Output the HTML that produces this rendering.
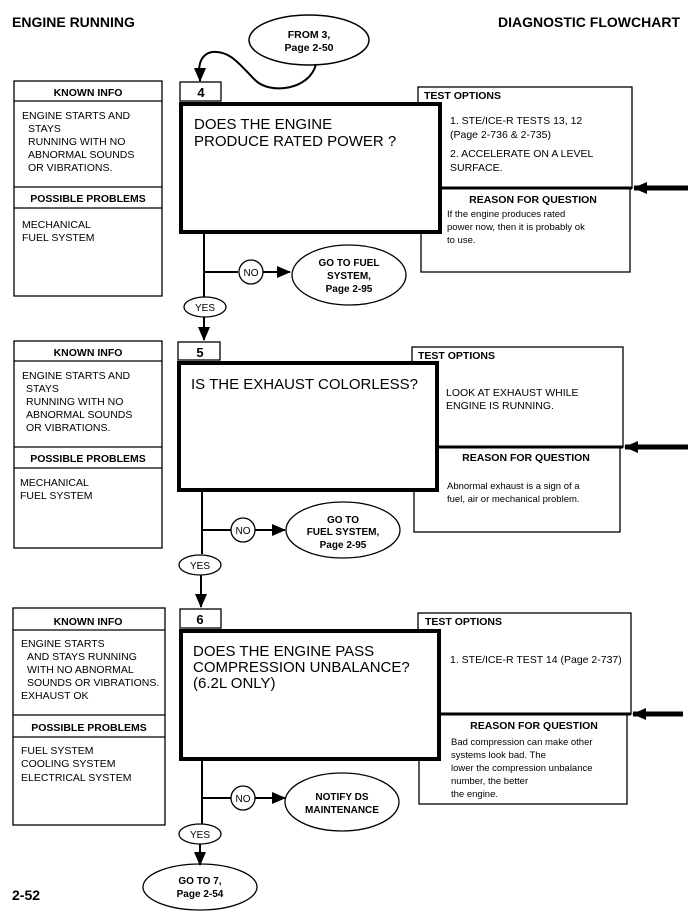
<!DOCTYPE html>
<html><head><meta charset="utf-8"><style>
body{margin:0;background:#fff}
svg{display:block}
text{font-family:"Liberation Sans",Arial,sans-serif;fill:#000}
.b{font-weight:bold}
.s{font-size:10.5px}
.q{font-size:15px}
</style></head><body>
<svg width="688" height="918" viewBox="0 0 688 918" xmlns="http://www.w3.org/2000/svg">
<defs><marker id="ah" markerWidth="8" markerHeight="8" refX="7" refY="4" orient="auto" markerUnits="userSpaceOnUse"><path d="M0,0 L8,4 L0,8 z"/></marker>
<marker id="ab" markerWidth="14" markerHeight="12" refX="13" refY="6" orient="auto" markerUnits="userSpaceOnUse"><path d="M0,0 L14,6 L0,12 z"/></marker></defs>
<g stroke="#000" fill="none">
<!-- header -->
</g>
<text x="12" y="27" class="b" font-size="14">ENGINE RUNNING</text>
<text x="680" y="27" class="b" font-size="14" text-anchor="end">DIAGNOSTIC FLOWCHART</text>

<!-- FROM 3 -->
<g stroke="#000" fill="none" stroke-width="1.5">
<ellipse cx="309" cy="40" rx="60" ry="25"/>
<path d="M316,64 C310,90 270,95 255,80 C240,65 230,50 212,52 C198,55 198,70 200,80" stroke-width="2"/>
<path d="M200,78 L200,81" marker-end="url(#ab)" stroke-width="2"/>
</g>
<text x="309" y="38" class="b" font-size="10.5" text-anchor="middle">FROM 3,</text>
<text x="309" y="51" class="b" font-size="10.5" text-anchor="middle">Page 2-50</text>

<!-- SECTION template -->
<g id="sec1">
<g stroke="#000" fill="none" stroke-width="1.3">
<rect x="14" y="81" width="148" height="215"/>
<line x1="14" y1="101" x2="162" y2="101"/>
<line x1="14" y1="187" x2="162" y2="187"/>
<line x1="14" y1="208" x2="162" y2="208"/>
<rect x="180" y="82" width="41" height="19"/>
<rect x="418" y="87" width="214" height="101"/>
<rect x="421" y="188" width="209" height="84"/>
<rect x="181" y="104" width="259" height="128" stroke-width="4" fill="#fff"/>
<line x1="440" y1="188" x2="632" y2="188" stroke-width="3"/>
<line x1="688" y1="188" x2="634" y2="188" stroke-width="5" marker-end="url(#ab)"/>
<line x1="204" y1="232" x2="204" y2="297" stroke-width="2"/>
<line x1="204" y1="272" x2="238" y2="272" stroke-width="2"/>
<circle cx="251" cy="272" r="12"/>
<line x1="263" y1="272" x2="290" y2="272" stroke-width="2" marker-end="url(#ab)"/>
<ellipse cx="349" cy="275" rx="57" ry="30"/>
<ellipse cx="205" cy="307" rx="21" ry="10"/>
<line x1="204" y1="317" x2="204" y2="340" stroke-width="2" marker-end="url(#ab)"/>
</g>
<text x="88" y="96" class="b s" text-anchor="middle">KNOWN INFO</text>
<text x="22" y="119" class="s">ENGINE STARTS AND</text>
<text x="28" y="132" class="s">STAYS</text>
<text x="28" y="145" class="s">RUNNING WITH NO</text>
<text x="28" y="158" class="s">ABNORMAL SOUNDS</text>
<text x="28" y="171" class="s">OR VIBRATIONS.</text>
<text x="88" y="202" class="b s" text-anchor="middle">POSSIBLE PROBLEMS</text>
<text x="22" y="228" class="s">MECHANICAL</text>
<text x="22" y="241" class="s">FUEL SYSTEM</text>
<text x="201" y="97" class="b" font-size="13" text-anchor="middle">4</text>
<text x="194" y="129" class="q">DOES THE ENGINE</text>
<text x="194" y="146" class="q">PRODUCE RATED POWER ?</text>
<text x="424" y="99" class="b s">TEST OPTIONS</text>
<text x="450" y="124" class="s">1. STE/ICE-R TESTS 13, 12</text>
<text x="450" y="138" class="s">(Page 2-736 &amp; 2-735)</text>
<text x="450" y="157" class="s">2. ACCELERATE ON A LEVEL</text>
<text x="450" y="171" class="s">SURFACE.</text>
<text x="533" y="203" class="b s" text-anchor="middle">REASON FOR QUESTION</text>
<text x="447" y="217" font-size="9.5">If the engine produces rated</text>
<text x="447" y="230" font-size="9.5">power now, then it is probably ok</text>
<text x="447" y="243" font-size="9.5">to use.</text>
<text x="251" y="276" font-size="10" text-anchor="middle">NO</text>
<text x="349" y="266" class="b" font-size="10" text-anchor="middle">GO TO FUEL</text>
<text x="349" y="279" class="b" font-size="10" text-anchor="middle">SYSTEM,</text>
<text x="349" y="292" class="b" font-size="10" text-anchor="middle">Page 2-95</text>
<text x="205" y="311" font-size="10" text-anchor="middle">YES</text>
</g>

<!-- SECTION 2 -->
<g stroke="#000" fill="none" stroke-width="1.3">
<rect x="14" y="341" width="148" height="207"/>
<line x1="14" y1="361" x2="162" y2="361"/>
<line x1="14" y1="447" x2="162" y2="447"/>
<line x1="14" y1="468" x2="162" y2="468"/>
<rect x="178" y="342" width="42" height="18"/>
<rect x="412" y="347" width="211" height="100"/>
<rect x="414" y="447" width="206" height="85"/>
<rect x="179" y="363" width="258" height="127" stroke-width="4" fill="#fff"/>
<line x1="437" y1="447" x2="623" y2="447" stroke-width="3"/>
<line x1="688" y1="447" x2="625" y2="447" stroke-width="5" marker-end="url(#ab)"/>
<line x1="202" y1="490" x2="202" y2="554" stroke-width="2"/>
<line x1="202" y1="530" x2="231" y2="530" stroke-width="2"/>
<circle cx="243" cy="530" r="12"/>
<line x1="255" y1="530" x2="285" y2="530" stroke-width="2" marker-end="url(#ab)"/>
<ellipse cx="343" cy="530" rx="57" ry="28"/>
<ellipse cx="200" cy="565" rx="21" ry="10"/>
<line x1="201" y1="575" x2="201" y2="607" stroke-width="2" marker-end="url(#ab)"/>
</g>
<text x="88" y="356" class="b s" text-anchor="middle">KNOWN INFO</text>
<text x="22" y="379" class="s">ENGINE STARTS AND</text>
<text x="26" y="392" class="s">STAYS</text>
<text x="26" y="405" class="s">RUNNING WITH NO</text>
<text x="26" y="418" class="s">ABNORMAL SOUNDS</text>
<text x="26" y="431" class="s">OR VIBRATIONS.</text>
<text x="88" y="462" class="b s" text-anchor="middle">POSSIBLE PROBLEMS</text>
<text x="20" y="486" class="s">MECHANICAL</text>
<text x="20" y="499" class="s">FUEL SYSTEM</text>
<text x="200" y="357" class="b" font-size="13" text-anchor="middle">5</text>
<text x="191" y="389" class="q">IS THE EXHAUST COLORLESS?</text>
<text x="418" y="359" class="b s">TEST OPTIONS</text>
<text x="446" y="396" class="s">LOOK AT EXHAUST WHILE</text>
<text x="446" y="409" class="s">ENGINE IS RUNNING.</text>
<text x="526" y="461" class="b s" text-anchor="middle">REASON FOR QUESTION</text>
<text x="447" y="489" font-size="9.5">Abnormal exhaust is a sign of a</text>
<text x="447" y="502" font-size="9.5">fuel, air or mechanical problem.</text>
<text x="243" y="534" font-size="10" text-anchor="middle">NO</text>
<text x="343" y="523" class="b" font-size="10" text-anchor="middle">GO TO</text>
<text x="343" y="535" class="b" font-size="10" text-anchor="middle">FUEL SYSTEM,</text>
<text x="343" y="548" class="b" font-size="10" text-anchor="middle">Page 2-95</text>
<text x="200" y="569" font-size="10" text-anchor="middle">YES</text>

<!-- SECTION 3 -->
<g stroke="#000" fill="none" stroke-width="1.3">
<rect x="13" y="608" width="152" height="217"/>
<line x1="13" y1="630" x2="165" y2="630"/>
<line x1="13" y1="715" x2="165" y2="715"/>
<line x1="13" y1="737" x2="165" y2="737"/>
<rect x="180" y="609" width="41" height="19"/>
<rect x="418" y="613" width="213" height="101"/>
<rect x="419" y="714" width="208" height="90"/>
<rect x="181" y="631" width="258" height="128" stroke-width="4" fill="#fff"/>
<line x1="439" y1="714" x2="631" y2="714" stroke-width="3"/>
<line x1="683" y1="714" x2="633" y2="714" stroke-width="5" marker-end="url(#ab)"/>
<line x1="202" y1="759" x2="202" y2="824" stroke-width="2"/>
<line x1="202" y1="798" x2="231" y2="798" stroke-width="2"/>
<circle cx="243" cy="798" r="12"/>
<line x1="255" y1="798" x2="285" y2="798" stroke-width="2" marker-end="url(#ab)"/>
<ellipse cx="342" cy="802" rx="57" ry="29"/>
<ellipse cx="200" cy="834" rx="21" ry="10"/>
<line x1="200" y1="844" x2="200" y2="865" stroke-width="2" marker-end="url(#ab)"/>
<ellipse cx="200" cy="887" rx="57" ry="23"/>
</g>
<text x="88" y="625" class="b s" text-anchor="middle">KNOWN INFO</text>
<text x="21" y="647" class="s">ENGINE STARTS</text>
<text x="27" y="660" class="s">AND STAYS RUNNING</text>
<text x="27" y="673" class="s">WITH NO ABNORMAL</text>
<text x="27" y="686" class="s">SOUNDS OR VIBRATIONS.</text>
<text x="21" y="699" class="s">EXHAUST OK</text>
<text x="89" y="731" class="b s" text-anchor="middle">POSSIBLE PROBLEMS</text>
<text x="21" y="754" class="s">FUEL SYSTEM</text>
<text x="21" y="767" class="s">COOLING SYSTEM</text>
<text x="21" y="781" class="s">ELECTRICAL SYSTEM</text>
<text x="200" y="624" class="b" font-size="13" text-anchor="middle">6</text>
<text x="193" y="656" class="q">DOES THE ENGINE PASS</text>
<text x="193" y="672" class="q">COMPRESSION UNBALANCE?</text>
<text x="193" y="688" class="q">(6.2L ONLY)</text>
<text x="425" y="625" class="b s">TEST OPTIONS</text>
<text x="450" y="663" class="s">1. STE/ICE-R TEST 14 (Page 2-737)</text>
<text x="534" y="729" class="b s" text-anchor="middle">REASON FOR QUESTION</text>
<text x="451" y="745" font-size="9.5">Bad compression can make other</text>
<text x="451" y="758" font-size="9.5">systems look bad.  The</text>
<text x="451" y="771" font-size="9.5">lower the compression unbalance</text>
<text x="451" y="784" font-size="9.5">number, the better</text>
<text x="451" y="797" font-size="9.5">the engine.</text>
<text x="243" y="802" font-size="10" text-anchor="middle">NO</text>
<text x="342" y="800" class="b" font-size="10" text-anchor="middle">NOTIFY DS</text>
<text x="342" y="813" class="b" font-size="10" text-anchor="middle">MAINTENANCE</text>
<text x="200" y="838" font-size="10" text-anchor="middle">YES</text>
<text x="200" y="884" class="b" font-size="10" text-anchor="middle">GO TO 7,</text>
<text x="200" y="897" class="b" font-size="10" text-anchor="middle">Page 2-54</text>
<text x="12" y="900" class="b" font-size="14">2-52</text>
</svg>
</body></html>
